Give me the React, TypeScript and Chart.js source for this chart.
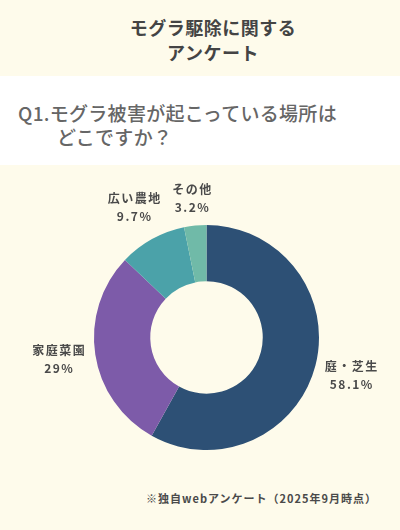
import { useEffect, useRef } from "react"
import { Chart, registerables } from "chart.js"

Chart.register(...registerables)

const categories = ["庭・芝生", "家庭菜園", "広い農地", "その他"]
const shares = [58.1, 29, 9.7, 3.2]
const shareLabels = ["58.1%", "29%", "9.7%", "3.2%"]
const sliceColors = ["#2d5075", "#7d5ba9", "#4ba2a9", "#70baa8"]

const FONT = '"Noto Sans CJK JP", "Noto Sans", sans-serif'

// draws "name / percent" outside each slice
const outerLabels = {
  id: "outerLabels",
  afterDatasetsDraw(chart: Chart) {
    const ctx = chart.ctx
    const meta = chart.getDatasetMeta(0)
    ctx.save()
    ctx.font = `bold 12px ${FONT}`
    ;(ctx as any).letterSpacing = "1.5px"
    ctx.fillStyle = "#4a4a4a"
    ctx.textAlign = "center"
    ctx.textBaseline = "middle"
    const lineH = 18
    meta.data.forEach((el: any, i: number) => {
      const { x, y, startAngle, endAngle, outerRadius } = el.getProps(
        ["x", "y", "startAngle", "endAngle", "outerRadius"],
        true
      )
      const mid = (startAngle + endAngle) / 2
      const lines = [categories[i], shareLabels[i]]
      const w = Math.max(...lines.map((l) => ctx.measureText(l).width))
      const h = lineH * lines.length
      const cos = Math.cos(mid)
      const sin = Math.sin(mid)
      const dist = outerRadius + 7 + (w / 2) * Math.abs(cos) + (h / 2) * Math.abs(sin)
      const cx = x + cos * dist
      const cy = y + sin * dist
      lines.forEach((l, j) => {
        ctx.fillText(l, cx, cy - h / 2 + lineH / 2 + j * lineH)
      })
    })
    ctx.restore()
  },
}

function DonutChart() {
  const chartRef = useRef<HTMLCanvasElement>(null)
  const chartInstance = useRef<Chart | null>(null)

  useEffect(() => {
    if (!chartRef.current) return
    if (chartInstance.current) chartInstance.current.destroy()

    chartInstance.current = new Chart(chartRef.current, {
      type: "doughnut",
      data: {
        labels: categories,
        datasets: [
          {
            data: shares,
            backgroundColor: sliceColors,
            borderWidth: 0,
          },
        ],
      },
      options: {
        responsive: true,
        maintainAspectRatio: false,
        animation: false,
        cutout: "50%",
        layout: { padding: { left: 94, right: 81, top: 60, bottom: 20 } },
        plugins: {
          legend: { display: false },
          tooltip: { enabled: false },
        },
      },
      plugins: [outerLabels],
    })

    return () => {
      if (chartInstance.current) {
        chartInstance.current.destroy()
        chartInstance.current = null
      }
    }
  }, [])

  return (
    <div style={{ position: "absolute", left: 0, top: 165, width: 400, height: 305 }}>
      <canvas ref={chartRef} />
    </div>
  )
}

export default function App() {
  return (
    <div
      style={{
        position: "fixed",
        left: 0,
        top: 0,
        width: 400,
        height: 530,
        background: "#fefbeb",
        fontFamily: FONT,
        overflow: "hidden",
      }}
    >
      <div
        style={{
          position: "absolute",
          left: 26,
          top: 15,
          width: 374,
          textAlign: "center",
          fontSize: 18,
          fontWeight: 700,
          lineHeight: "25px",
          letterSpacing: 0.5,
          color: "#444",
        }}
      >
        <div>モグラ駆除に関する</div>
        <div>アンケート</div>
      </div>
      <div
        style={{
          position: "absolute",
          left: 0,
          top: 76,
          width: 400,
          height: 89,
          background: "#ffffff",
        }}
      />
      <div
        style={{
          position: "absolute",
          left: 18,
          top: 101,
          fontSize: 19,
          fontWeight: 500,
          lineHeight: "24px",
          letterSpacing: 0.3,
          color: "#666",
          whiteSpace: "nowrap",
        }}
      >
        <div>Q1.モグラ被害が起こっている場所は</div>
        <div style={{ paddingLeft: 39 }}>どこですか？</div>
      </div>
      <DonutChart />
      <div
        style={{
          position: "absolute",
          right: 23,
          top: 490,
          fontSize: 11,
          fontWeight: 700,
          lineHeight: "16px",
          letterSpacing: 1,
          color: "#4a4a4a",
          whiteSpace: "nowrap",
        }}
      >
        ※独自webアンケート（2025年9月時点）
      </div>
    </div>
  )
}
